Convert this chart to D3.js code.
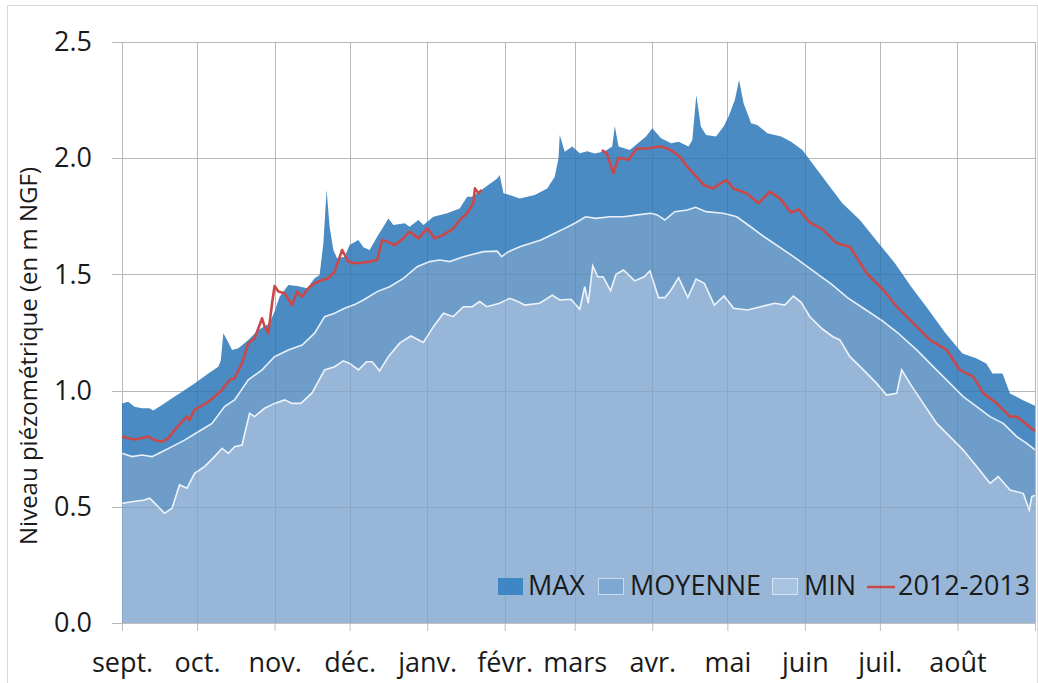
<!DOCTYPE html>
<html>
<head>
<meta charset="utf-8">
<script src="https://cdn.jsdelivr.net/npm/d3@7"></script>
<style>
  body { margin: 0; background: #fff; }
  svg text { font-family: "Open Sans", "DejaVu Sans", sans-serif; fill: #1a1a1a; }
</style>
</head>
<body>
<div id="chart"></div>
<script>
// days counted from 1 sept. 2012
var monthLabels = ["sept.", "oct.", "nov.", "déc.", "janv.", "févr.", "mars", "avr.", "mai", "juin", "juil.", "août"];
var yTicks = [0, 0.5, 1.0, 1.5, 2.0, 2.5];

var maxDays = [0, 2.5, 5, 8, 11, 12.5, 16, 20, 24, 29, 34.5, 38.5, 39.5, 40.5, 42, 44, 46.5, 50.5, 54.5, 59, 61, 63, 66.5, 70, 74, 77, 79, 80.5, 81.8, 83, 84.5, 86, 89, 91, 94.5, 96.5, 99, 102, 104.5, 106.5, 108.5, 113, 115, 118.5, 120.5, 124.5, 130, 135, 138, 140, 144.5, 150, 151, 152.5, 155, 159, 165, 170, 173, 174.5, 175, 177, 180, 183, 186, 189, 193, 196, 197, 198.5, 203, 209.5, 212, 215.5, 219.5, 222.5, 226.5, 228, 229.6, 231.4, 233.5, 237.5, 240.5, 242.5, 245, 246.7, 248.5, 251.5, 254, 258, 263.5, 267.5, 272, 277, 283, 288, 295, 302, 309, 315.5, 322.5, 329, 336, 341.5, 345.5, 348, 352, 355, 360, 365];
var maxVals = [0.945, 0.952, 0.93, 0.924, 0.924, 0.914, 0.938, 0.967, 0.995, 1.031, 1.074, 1.103, 1.13, 1.247, 1.218, 1.175, 1.182, 1.218, 1.261, 1.29, 1.34, 1.404, 1.454, 1.45, 1.44, 1.483, 1.497, 1.634, 1.863, 1.705, 1.605, 1.569, 1.576, 1.627, 1.648, 1.617, 1.605, 1.662, 1.705, 1.741, 1.713, 1.72, 1.705, 1.734, 1.713, 1.748, 1.763, 1.784, 1.834, 1.834, 1.87, 1.913, 1.928, 1.849, 1.842, 1.827, 1.842, 1.87, 1.92, 2.0, 2.10, 2.028, 2.05, 2.021, 2.03, 2.02, 2.03, 2.05, 2.139, 2.05, 2.035, 2.093, 2.129, 2.086, 2.064, 2.071, 2.05, 2.078, 2.272, 2.136, 2.1, 2.093, 2.136, 2.179, 2.25, 2.336, 2.236, 2.15, 2.143, 2.107, 2.093, 2.071, 2.035, 1.963, 1.877, 1.806, 1.734, 1.641, 1.548, 1.447, 1.347, 1.25, 1.16, 1.139, 1.117, 1.074, 1.074, 0.988, 0.96, 0.935];

var moyDays = [0, 4, 8, 12, 16, 20, 25, 30.5, 36, 41, 45, 50.5, 56, 61, 66.5, 72, 77, 81, 85, 89, 93, 96.5, 102, 107, 112.5, 118, 123, 127, 131, 136.5, 144.5, 150, 151.8, 154, 159.3, 167.5, 173, 177, 181, 185.4, 189.5, 195, 200.5, 206, 211.5, 214, 217, 221, 226, 229.3, 233.4, 240.3, 245.8, 251.3, 256.7, 263.6, 270, 277, 284, 290, 297, 304, 310, 317.7, 324.3, 331, 336.3, 341.7, 347, 352.3, 357.7, 361.7, 365];
var moyVals = [0.73, 0.716, 0.723, 0.716, 0.737, 0.759, 0.787, 0.823, 0.859, 0.931, 0.96, 1.046, 1.089, 1.146, 1.175, 1.196, 1.247, 1.318, 1.333, 1.354, 1.37, 1.39, 1.426, 1.447, 1.483, 1.533, 1.555, 1.562, 1.555, 1.576, 1.598, 1.6, 1.576, 1.595, 1.62, 1.648, 1.677, 1.698, 1.72, 1.748, 1.741, 1.748, 1.748, 1.756, 1.763, 1.756, 1.734, 1.77, 1.777, 1.789, 1.77, 1.763, 1.748, 1.705, 1.662, 1.612, 1.565, 1.51, 1.455, 1.40, 1.35, 1.30, 1.25, 1.175, 1.103, 1.031, 0.974, 0.931, 0.888, 0.859, 0.802, 0.773, 0.745];

var minDays = [0, 4, 9, 11, 12.5, 14.5, 17, 20, 23, 26, 29, 33, 37, 40, 42.5, 45, 48, 51, 53, 57, 61, 65, 68, 71.5, 76, 81, 85, 88.5, 91, 94.5, 97.8, 100, 103, 106.5, 111, 115.5, 120.5, 124.5, 128.5, 132.4, 136.5, 140, 143, 145.8, 151, 155, 158, 161, 167, 172, 175, 179.5, 183, 185, 186.4, 188.2, 190.2, 192.3, 195.3, 197.5, 200.5, 205, 208.7, 211.1, 214.5, 217, 219.5, 222.5, 226.2, 229.5, 232.8, 236.8, 240.7, 244.5, 250, 255.4, 261, 265, 268.4, 271.5, 275, 280, 284.2, 287, 291, 296.4, 301.7, 305.7, 309.7, 311.7, 315, 320.3, 325.7, 331, 336.3, 341.7, 347, 350.3, 355, 360.3, 362.7, 363.7, 365];
var minVals = [0.515, 0.522, 0.529, 0.537, 0.522, 0.50, 0.472, 0.494, 0.594, 0.58, 0.644, 0.673, 0.716, 0.752, 0.73, 0.759, 0.766, 0.902, 0.888, 0.924, 0.945, 0.96, 0.945, 0.945, 0.99, 1.089, 1.103, 1.128, 1.117, 1.089, 1.124, 1.124, 1.085, 1.146, 1.204, 1.235, 1.207, 1.275, 1.333, 1.318, 1.361, 1.361, 1.383, 1.361, 1.376, 1.397, 1.385, 1.368, 1.376, 1.411, 1.39, 1.393, 1.35, 1.447, 1.376, 1.537, 1.49, 1.49, 1.43, 1.50, 1.519, 1.472, 1.49, 1.515, 1.40, 1.40, 1.433, 1.486, 1.40, 1.48, 1.462, 1.368, 1.407, 1.354, 1.347, 1.361, 1.376, 1.368, 1.407, 1.38, 1.318, 1.265, 1.232, 1.218, 1.146, 1.089, 1.031, 0.981, 0.988, 1.089, 1.031, 0.945, 0.859, 0.802, 0.744, 0.673, 0.601, 0.63, 0.572, 0.558, 0.486, 0.543, 0.55];

// 2012-2013 record, null = no data
var obsDays = [0, 2.5, 5, 7.5, 10.5, 13, 16, 18.5, 21, 24, 26, 27, 29, 34.5, 40, 43, 45, 48, 50.5, 53, 56, 57, 58.5, 60, 61, 62.5, 65, 68, 70, 72, 74.5, 77, 80, 82.5, 85, 88, 90.5, 93, 96, 99, 102, 104, 106, 109, 112.5, 115, 118.5, 122, 125, 128.5, 132.5, 135, 138, 140.4, 141.1, 142.5, 143.8, 160,
  191.8, 193.8, 196.4, 198.4, 200, 202.4, 205.8, 210, 215, 218, 220.4, 223, 226, 228.5, 232.5, 236.5, 239, 241.7, 244.4, 249.7, 254.4, 259, 263, 267.5, 270.5, 275, 280, 285.7, 291, 297.7, 304.4, 309.7, 316.3, 323, 329.7, 335, 340.3, 344.4, 349.7, 355, 357.7, 365];
var obsVals = [0.802, 0.795, 0.79, 0.795, 0.802, 0.787, 0.78, 0.795, 0.83, 0.866, 0.888, 0.873, 0.917, 0.952, 1.003, 1.046, 1.053, 1.118, 1.204, 1.225, 1.311, 1.275, 1.247, 1.376, 1.45, 1.426, 1.419, 1.368, 1.426, 1.404, 1.44, 1.462, 1.476, 1.483, 1.512, 1.605, 1.555, 1.548, 1.55, 1.555, 1.562, 1.648, 1.641, 1.626, 1.655, 1.684, 1.655, 1.698, 1.655, 1.67, 1.698, 1.734, 1.763, 1.806, 1.87, 1.849, 1.863, null,
  2.035, 2.021, 1.935, 2.0, 2.0, 1.992, 2.042, 2.042, 2.05, 2.042, 2.028, 2.006, 1.963, 1.935, 1.885, 1.87, 1.89, 1.906, 1.87, 1.849, 1.806, 1.856, 1.827, 1.766, 1.78, 1.723, 1.695, 1.634, 1.619, 1.505, 1.433, 1.361, 1.29, 1.218, 1.175, 1.089, 1.06, 0.988, 0.945, 0.888, 0.888, 0.825];

var W = 1038, H = 683;
var mrg = { left: 122, right: 1035, top: 42, bottom: 623 };

var svg = d3.select("#chart").append("svg")
  .attr("width", W).attr("height", H);

// outer chart border
svg.append("rect")
  .attr("x", 7.5).attr("y", 5.5).attr("width", W - 8).attr("height", H - 4)
  .attr("fill", "none").attr("stroke", "#d9d9d9");

var t0 = new Date(Date.UTC(2012, 8, 1));
var t1 = new Date(Date.UTC(2013, 8, 1));
var toDate = function (d) { return new Date(t0.getTime() + d * 864e5); };

var xScale = d3.scaleUtc().domain([t0, t1]).range([mrg.left, mrg.right]);
var yScale = d3.scaleLinear().domain([0, 2.5]).range([mrg.bottom, mrg.top]);
var months = d3.utcMonth.range(t0, d3.utcDay.offset(t1, 1));

function grid(g, color) {
  g.selectAll(".hg").data(yTicks).enter().append("line")
    .attr("x1", mrg.left - 10).attr("x2", mrg.right)
    .attr("y1", function (d) { return Math.round(yScale(d)) + 0.5; })
    .attr("y2", function (d) { return Math.round(yScale(d)) + 0.5; })
    .attr("stroke", color);
  g.selectAll(".vg").data(months).enter().append("line")
    .attr("x1", function (d) { return Math.round(xScale(d)) + 0.5; })
    .attr("x2", function (d) { return Math.round(xScale(d)) + 0.5; })
    .attr("y1", mrg.top).attr("y2", mrg.bottom)
    .attr("stroke", color);
}
grid(svg.append("g"), "#c8c8c8");

var maxData = d3.zip(maxDays, maxVals);
var moyData = d3.zip(moyDays, moyVals);
var minData = d3.zip(minDays, minVals);
var obsData = d3.zip(obsDays, obsVals);

var area = d3.area()
  .x(function (d) { return xScale(toDate(d[0])); })
  .y0(yScale(0))
  .y1(function (d) { return yScale(d[1]); });
var line = d3.line()
  .defined(function (d) { return d[1] != null; })
  .x(function (d) { return xScale(toDate(d[0])); })
  .y(function (d) { return yScale(d[1]); });

svg.append("path").datum(maxData).attr("d", area).attr("fill", "#4a8bc4");
svg.append("path").datum(moyData).attr("d", area).attr("fill", "#6f9dc9");
svg.append("path").datum(moyData).attr("d", line)
  .attr("fill", "none").attr("stroke", "#e8f0f8").attr("stroke-width", 1.6);
svg.append("path").datum(minData).attr("d", area).attr("fill", "#98b7d8");
svg.append("path").datum(minData).attr("d", line)
  .attr("fill", "none").attr("stroke", "#eef4fa").attr("stroke-width", 1.6);

// faint grid seen through the areas
grid(svg.append("g").attr("opacity", 0.08), "#000");

svg.append("path").datum(obsData).attr("d", line)
  .attr("fill", "none").attr("stroke", "#c9494b").attr("stroke-width", 2.6)
  .attr("stroke-linejoin", "round");

// axes
var xAxis = svg.append("g")
  .attr("transform", "translate(0," + mrg.bottom + ")")
  .call(d3.axisBottom(xScale).tickValues(months)
    .tickFormat(function (d, i) { return monthLabels[i] || ""; })
    .tickSize(8).tickSizeOuter(0));
xAxis.select(".domain").attr("stroke", "#bfbfbf");
xAxis.selectAll(".tick line").attr("stroke", "#bfbfbf");
xAxis.selectAll(".tick text").attr("y", 49).attr("dy", 0)
  .style("font-size", "27px").style("fill", "#1a1a1a");

var yAxis = svg.append("g")
  .attr("transform", "translate(" + mrg.left + ",0)")
  .call(d3.axisLeft(yScale).tickValues(yTicks).tickFormat(d3.format(".1f"))
    .tickSize(0).tickPadding(30));
yAxis.select(".domain").remove();
yAxis.selectAll(".tick text").style("font-size", "27px").style("fill", "#1a1a1a");

svg.append("text")
  .attr("transform", "translate(37,356) rotate(-90)")
  .attr("text-anchor", "middle")
  .style("font-size", "24px")
  .text("Niveau piézométrique (en m NGF)");

// legend
var lg = svg.append("g");
lg.append("rect").attr("x", 498).attr("y", 578).attr("width", 25).attr("height", 17).attr("fill", "#3f86c5");
lg.append("rect").attr("x", 598.5).attr("y", 578.5).attr("width", 25).attr("height", 16)
  .attr("fill", "#7ea8d1").attr("stroke", "#c9dcee");
lg.append("rect").attr("x", 772.5).attr("y", 578.5).attr("width", 25).attr("height", 16)
  .attr("fill", "#a9c4e0").attr("stroke", "#d6e4f2");
lg.append("line").attr("x1", 867).attr("x2", 895).attr("y1", 587).attr("y2", 587)
  .attr("stroke", "#c9494b").attr("stroke-width", 2.5);
var legendItems = [["MAX", 528], ["MOYENNE", 630], ["MIN", 804], ["2012-2013", 898]];
lg.selectAll("text").data(legendItems).enter().append("text")
  .attr("x", function (d) { return d[1]; })
  .attr("y", 595)
  .style("font-size", "27px")
  .text(function (d) { return d[0]; });
</script>
</body>
</html>
